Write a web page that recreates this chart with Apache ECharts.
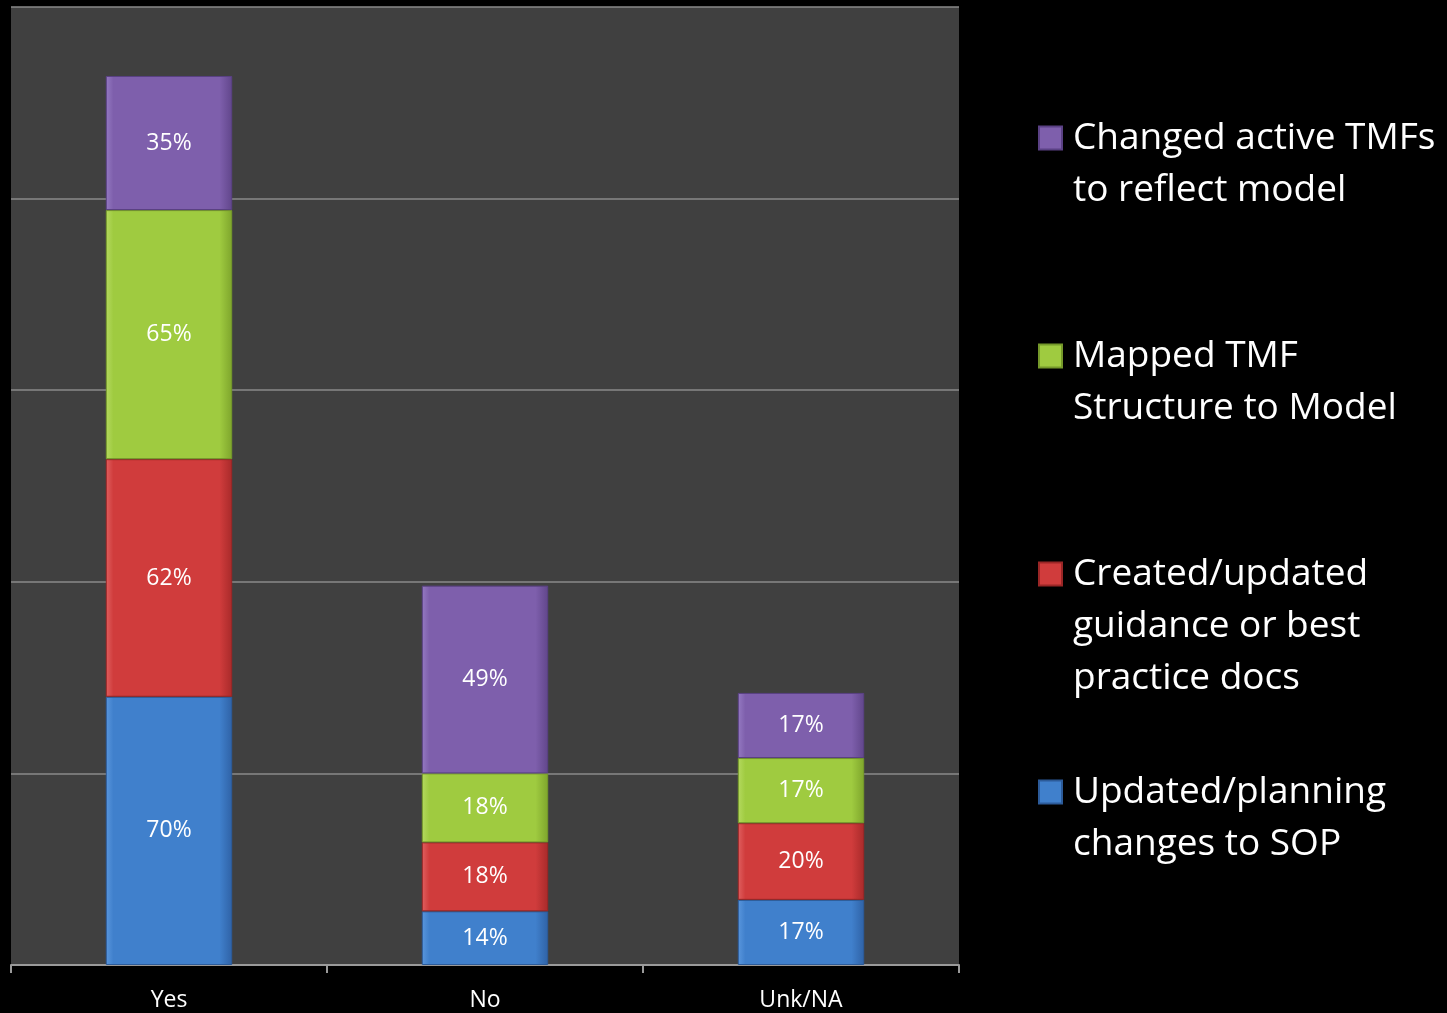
<!DOCTYPE html>
<html>
<head>
<meta charset="utf-8">
<script src="https://cdn.jsdelivr.net/npm/echarts@6/dist/echarts.min.js"></script>
<style>
  html, body { margin: 0; padding: 0; background: #000; }
  #chart { width: 1447px; height: 1013px; }
</style>
</head>
<body>
<div id="chart"></div>
<script>
// chart data
var categories = ['Yes', 'No', 'Unk/NA'];
var seriesNames = [
  'Updated/planning changes to SOP',
  'Created/updated guidance or best practice docs',
  'Mapped TMF Structure to Model',
  'Changed active TMFs to reflect model'
];
var sopValues = [70, 14, 17];
var guidanceValues = [62, 18, 20];
var mappedValues = [65, 18, 17];
var changedValues = [35, 49, 17];
var yTicks = [0, 50, 100, 150, 200, 250];
// legend text split into lines, same order as seriesNames
var legendLines = [
  ['Updated/planning', 'changes to SOP'],
  ['Created/updated', 'guidance or best', 'practice docs'],
  ['Mapped TMF', 'Structure to Model'],
  ['Changed active TMFs', 'to reflect model']
];

var FONT = 'Open Sans';
var LINE_H = 52;

function grad(light, base, dark) {
  return new echarts.graphic.LinearGradient(0, 0, 1, 0, [
    {offset: 0, color: light},
    {offset: 0.06, color: base},
    {offset: 0.9, color: base},
    {offset: 1, color: dark}
  ]);
}

var colors = [
  grad('#5a97dd', '#4080cc', '#2f62a6'),
  grad('#e06060', '#d03c3c', '#a82a2a'),
  grad('#b5da60', '#9fcb40', '#7ea52c'),
  grad('#957ac2', '#7e5fac', '#61468b')
];
var borders = ['#2c5b99', '#9a2626', '#75992a', '#5a4184'];

var allValues = [sopValues, guidanceValues, mappedValues, changedValues];

var series = seriesNames.map(function (name, i) {
  return {
    name: name,
    type: 'bar',
    stack: 'total',
    barWidth: '40%',
    data: allValues[i],
    itemStyle: {
      color: colors[i],
      borderColor: borders[i],
      borderWidth: 1
    },
    label: {
      show: true,
      position: 'inside',
      color: '#ffffff',
      fontFamily: FONT,
      fontSize: 23,
      formatter: '{c}%'
    }
  };
});

// one legend block per series, listed top to bottom like the original.
// blank lines in front keep the icon level with the first text line
var legendTargets = [790, 572, 354, 136];
var legends = seriesNames.map(function (name, i) {
  var n = legendLines[i].length;
  var blanks = new Array(n).join('\n');
  return {
    data: [name],
    orient: 'vertical',
    left: 1038,
    top: legendTargets[i] + 2 - (2 * n - 1) * LINE_H / 2,
    padding: 0,
    itemWidth: 23,
    itemHeight: 23,
    icon: 'rect',
    selectedMode: false,
    formatter: function () { return blanks + legendLines[i].join('\n'); },
    textStyle: {
      color: '#ffffff',
      fontFamily: FONT,
      fontSize: 37,
      lineHeight: LINE_H,
      padding: [0, 0, 0, 6]
    }
  };
});

var myChart = echarts.init(document.getElementById('chart'));
var option = {
  backgroundColor: '#000000',
  animation: false,
  grid: {
    left: 11,
    right: 488,
    top: 7,
    bottom: 48,
    show: true,
    backgroundColor: '#404040',
    borderWidth: 0
  },
  legend: legends,
  xAxis: {
    type: 'category',
    data: categories,
    axisLine: { lineStyle: { color: '#9a9a9a', width: 2 } },
    axisTick: { show: true, length: 8, lineStyle: { color: '#9a9a9a', width: 2 } },
    axisLabel: { color: '#ffffff', fontFamily: FONT, fontSize: 23, margin: 24 }
  },
  yAxis: {
    type: 'value',
    min: yTicks[0],
    max: yTicks[yTicks.length - 1],
    interval: yTicks[1] - yTicks[0],
    axisLabel: { show: false },
    axisLine: { show: false },
    axisTick: { show: false },
    splitLine: { lineStyle: { color: '#8a8a8a', width: 1.5 } }
  },
  series: series
};
myChart.setOption(option);
window.onresize = myChart.resize;
</script>
</body>
</html>
